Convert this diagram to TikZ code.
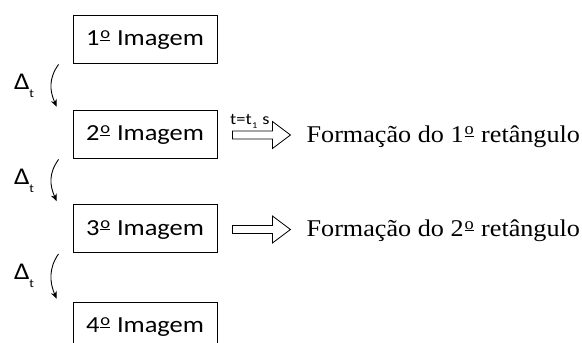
\documentclass[tikz,border=0pt]{standalone}
\usepackage{fontspec}
\setmainfont{Carlito}[FakeStretch=1.15]
\newfontfamily\serifcam[FakeStretch=1.09]{Liberation Serif}
\newcommand\ordo{\kern0.04em\raisebox{0.3em}{\scalebox{0.7}{\underline{o}}}\kern0.04em}
\usetikzlibrary{arrows.meta,calc}
\begin{document}
\begin{tikzpicture}[x=1pt,y=-1pt,
  imgbox/.style={draw, line width=0.9pt, minimum width=144pt, minimum height=48pt,
    inner sep=0pt, text height=13pt, text depth=0pt, font=\fontsize{23}{26}\selectfont},
  restext/.style={anchor=base west, inner sep=0pt, font=\serifcam\fontsize{24}{28}\selectfont},
  deltalbl/.style={anchor=base west, inner sep=0pt, font=\fontsize{24}{28}\selectfont},
  steparrow/.style={line width=0.9pt, -{Stealth[length=7pt,width=6pt]}},
  blockarrow/.style={draw, line width=0.8pt, fill=white, line join=miter}
]
\clip (0,0) rectangle (582,343);
\node[imgbox] (b1) at (145,39) {1\ordo{} Imagem};
\node[imgbox] (b2) at (145,134) {2\ordo{} Imagem};
\node[imgbox] (b3) at (145,228.5) {3\ordo{} Imagem};
\node[imgbox] (b4) at (145,326) {4\ordo{} Imagem};

% Delta labels
\foreach \yy/\nm in {89/d1,184/d2,279/d3}{
  \node[deltalbl] (\nm) at (14,\yy) {Δ\kern-0.5pt\raisebox{-8pt}{\fontsize{12}{12}\selectfont t}};
}

% curved step arrows
\foreach \a/\b [count=\i] in {b1/b2,b2/b3,b3/b4}{
  \coordinate (s\i) at ($(\a.south west)+(-14,1)$);
  \coordinate (e\i) at ($(\b.north west)+(-16,-3)$);
  \draw[steparrow] (s\i) .. controls ($(s\i)+(-10,14)$) and ($(e\i)+(-7,-16)$) .. (e\i);
}

% block arrows and results
\foreach \b/\nn [count=\i] in {b2/1,b3/2}{
  \coordinate (a\i) at ($(\b.east)+(15,1)$);
  \draw[blockarrow] (a\i) ++(0,-4) -- ++(40,0) -- ++(0,-9.5) -- ++(18,13.5) -- ++(-18,13.5)
     -- ++(0,-9.5) -- ++(-40,0) -- cycle;
  \node[restext] (r\i) at ($(\b.east)+(89,8)$) {Formação do \nn\ordo{} retângulo};
}

\node[anchor=base west, inner sep=0pt, font=\fontsize{16}{18}\selectfont] (tlbl) at (230,124)
  {t=t\kern0.5pt\raisebox{-4pt}{\fontsize{9}{9}\selectfont 1}\kern5pt s};
\end{tikzpicture}
\end{document}
